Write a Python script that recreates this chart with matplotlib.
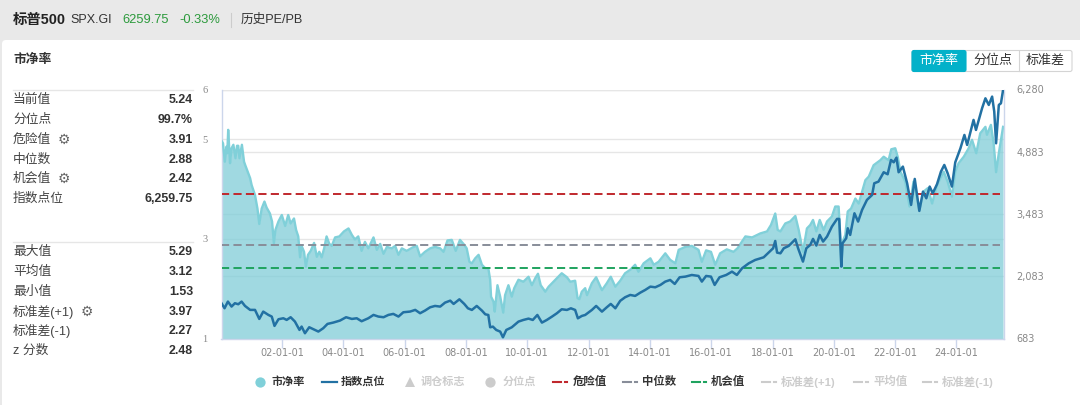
import matplotlib
matplotlib.use("Agg")
import matplotlib.pyplot as plt
from matplotlib.patches import FancyBboxPatch

plt.rcParams['font.family'] = ['Liberation Sans', 'Noto Sans CJK SC', 'DejaVu Sans']

# 市净率
pb_x = [2000.31,2000.36,2000.42,2000.47,2000.50,2000.53,2000.59,2000.64,2000.70,2000.77,2000.82,2000.86,2000.90,2000.98,
	2001.05,2001.09,2001.19,2001.25,2001.30,2001.41,2001.49,2001.55,2001.63,2001.72,2001.79,2001.90,2001.97,
	2002.03,2002.08,2002.18,2002.29,2002.40,2002.50,2002.58,2002.69,2002.76,2002.83,2002.89,2002.94,
	2003.02,2003.08,2003.15,2003.24,2003.35,2003.44,2003.52,2003.60,2003.68,2003.76,2003.85,2003.93,
	2004.04,2004.18,2004.33,2004.48,2004.59,2004.69,2004.80,2004.91,2005.02,2005.13,2005.30,2005.41,2005.52,2005.63,2005.74,2005.90,
	2006.01,2006.12,2006.23,2006.39,2006.59,2006.72,2006.83,2006.99,2007.16,2007.32,2007.49,2007.60,2007.73,2007.87,
	2008.00,2008.14,2008.28,2008.36,2008.45,2008.53,2008.64,2008.75,2008.86,2008.97,2009.07,2009.13,2009.16,2009.24,2009.28,2009.37,2009.46,2009.56,2009.62,2009.73,2009.84,2009.92,
	2010.06,2010.22,2010.39,2010.50,2010.61,2010.70,2010.79,2010.94,2011.05,2011.16,2011.32,2011.48,2011.65,2011.76,2011.92,
	2012.00,2012.06,2012.14,2012.25,2012.31,2012.47,2012.61,2012.80,2012.96,2013.09,2013.24,2013.40,2013.56,2013.73,2013.89,
	2014.00,2014.17,2014.39,2014.50,2014.66,2014.88,2015.04,2015.21,2015.32,2015.54,2015.75,2015.97,2016.08,2016.22,2016.38,2016.52,2016.68,2016.90,
	2017.12,2017.25,2017.51,2017.73,2018.00,2018.22,2018.35,2018.49,2018.57,2018.66,2018.82,2018.98,2019.15,2019.26,2019.40,2019.53,
	2019.64,2019.73,2019.84,2019.95,2020.08,2020.19,2020.35,2020.46,2020.57,2020.63,2020.66,2020.70,2020.79,2020.87,2020.98,
	2021.12,2021.23,2021.45,2021.56,2021.72,2021.94,2022.05,2022.21,2022.30,2022.43,2022.51,2022.60,2022.76,2022.90,
	2023.03,2023.22,2023.36,2023.50,2023.64,2023.80,2024.02,2024.15,2024.29,2024.40,2024.51,2024.68,2024.84,2024.95,
	2025.09,2025.22,2025.39,2025.44,2025.57,2025.66,2025.74,2025.83,2025.97]
pb_y = [4.97,4.92,4.55,4.85,4.72,5.19,4.52,4.82,4.89,4.62,4.87,4.87,4.62,4.89,
	4.55,4.48,4.32,4.22,4.08,3.88,3.61,3.30,3.61,3.75,3.63,3.51,3.35,
	2.91,3.18,3.35,3.48,3.26,3.48,3.31,3.41,3.18,3.05,2.63,2.86,
	2.74,2.44,2.68,2.76,2.92,2.64,2.74,2.63,2.81,3.05,2.90,2.86,
	3.03,3.05,3.15,3.21,3.08,2.99,3.05,2.76,2.94,2.81,3.03,2.78,2.90,2.70,2.84,2.81,
	2.86,2.68,2.81,2.76,2.83,2.86,2.65,2.74,2.81,2.84,2.81,2.74,2.97,2.98,
	2.76,2.98,2.88,2.81,2.54,2.51,2.61,2.68,2.48,2.41,2.41,2.18,1.84,1.74,1.54,2.07,1.84,1.52,1.87,2.07,1.84,2.01,
	2.18,2.14,2.24,2.07,2.21,2.30,2.07,1.94,2.04,2.11,2.21,2.31,2.23,2.14,2.16,
	1.81,1.79,1.94,2.01,1.87,2.11,2.23,1.97,2.11,2.24,2.04,2.16,2.31,2.38,2.48,
	2.34,2.51,2.61,2.48,2.54,2.71,2.58,2.51,2.78,2.84,2.86,2.78,2.54,2.77,2.74,2.48,2.71,2.79,
	2.74,2.81,3.05,3.03,3.11,3.15,3.28,3.51,3.18,3.15,3.31,3.35,3.46,3.18,2.74,3.21,
	3.28,3.38,3.15,3.38,3.18,3.35,3.45,3.65,3.65,3.01,2.44,2.94,3.08,3.55,3.61,
	3.81,3.71,4.18,4.25,4.48,4.58,4.65,4.58,4.80,4.82,4.65,4.35,4.15,3.65,
	4.15,3.58,3.95,4.02,3.71,4.08,4.35,4.15,3.85,4.35,4.52,4.65,4.82,4.99,
	4.72,5.12,5.25,5.09,5.29,4.92,4.34,4.72,5.25]

# 指数点位
idx_x = [2000.31,2000.41,2000.52,2000.64,2000.75,2000.86,2000.97,2001.08,2001.25,2001.41,2001.55,2001.68,2001.85,2001.96,
	2002.05,2002.18,2002.34,2002.45,2002.58,2002.72,2002.87,2002.94,2003.05,2003.19,2003.33,2003.49,2003.65,2003.79,2003.98,
	2004.20,2004.40,2004.59,2004.75,2004.91,2005.13,2005.30,2005.46,2005.63,2005.79,2005.95,2006.12,2006.28,2006.50,2006.67,2006.83,
	2006.99,2007.16,2007.32,2007.49,2007.65,2007.82,2007.93,2008.12,2008.28,2008.40,2008.53,2008.69,2008.86,2008.97,
	2009.07,2009.13,2009.22,2009.33,2009.46,2009.55,2009.66,2009.84,2010.06,2010.22,2010.39,2010.53,2010.68,2010.83,2010.99,
	2011.16,2011.32,2011.48,2011.65,2011.78,2011.92,2012.01,2012.14,2012.25,2012.47,2012.61,2012.80,2012.96,2013.09,2013.24,2013.40,
	2013.56,2013.73,2013.89,2014.06,2014.22,2014.39,2014.55,2014.72,2014.88,2015.04,2015.19,2015.35,2015.54,2015.75,2015.97,
	2016.08,2016.22,2016.38,2016.50,2016.66,2016.88,2017.07,2017.23,2017.40,2017.62,2017.83,2018.11,2018.27,2018.42,2018.49,2018.55,2018.66,2018.77,2018.93,
	2019.15,2019.24,2019.40,2019.51,2019.64,2019.73,2019.84,2019.95,2020.06,2020.19,2020.35,2020.52,2020.59,2020.66,2020.70,2020.82,2020.87,2020.95,
	2021.09,2021.21,2021.34,2021.50,2021.67,2021.74,2021.88,2022.05,2022.18,2022.29,2022.38,2022.47,2022.54,2022.68,2022.82,2022.95,
	2023.07,2023.22,2023.34,2023.45,2023.56,2023.66,2023.80,2023.93,2024.04,2024.15,2024.29,2024.40,2024.57,2024.70,2024.79,
	2025.00,2025.08,2025.28,2025.39,2025.50,2025.61,2025.68,2025.74,2025.83,2025.90,2025.97]
idx_y = [1476,1363,1513,1401,1476,1453,1513,1416,1326,1326,1123,1288,1213,1176,
	966,1116,1138,1101,1161,1064,876,951,801,936,891,839,914,1011,1041,
	1086,1161,1123,1138,1071,1138,1213,1176,1161,1213,1236,1176,1273,1288,1326,1251,
	1310,1385,1415,1400,1490,1534,1460,1564,1460,1362,1325,1415,1310,1227,
	1212,935,950,875,838,710,875,935,1063,1100,1130,1100,1212,1040,1100,
	1175,1250,1340,1325,1362,1325,1137,1190,1212,1325,1415,1287,1385,1460,1362,1530,
	1610,1662,1640,1714,1774,1849,1834,1887,1962,1999,1909,2059,2074,2111,2089,
	1962,2089,2074,1887,2059,2111,2186,2111,2261,2373,2448,2508,2613,2711,2875,2613,2598,2711,2763,
	2913,2711,2411,2711,2787,2922,2772,3011,2862,2974,3199,3371,3371,2300,2824,2937,3161,3011,
	3498,3311,3573,3798,3910,4172,4210,4420,4375,4697,4644,4749,4420,4547,4172,3686,
	4270,3551,3985,3835,4098,3948,4150,4435,4584,4397,4098,4644,4959,5258,5034,
	5596,5371,5858,6082,5933,6120,5783,5071,5933,5970,6270]

# 危险值 / 中位数 / 机会值
danger = 3.91
median = 2.88
chance = 2.42

tick_pos = [2002.30,2004.31,2006.32,2008.34,2010.35,2012.36,2014.38,2016.39,2018.40,2020.41,2022.43,2024.44]
tick_labels = ['02-01-01','04-01-01','06-01-01','08-01-01','10-01-01','12-01-01','14-01-01','16-01-01','18-01-01','20-01-01','22-01-01','24-01-01']
left_ticks = [1,3,5,6]
right_ticks = [683,2083,3483,4883,6280]

top_rows = [('当前值','5.24',0),('分位点','99.7%',0),('危险值','3.91',1),('中位数','2.88',0),('机会值','2.42',1),('指数点位','6,259.75',0)]
bottom_rows = [('最大值','5.29',0),('平均值','3.12',0),('最小值','1.53',0),('标准差(+1)','3.97',1),('标准差(-1)','2.27',0),('z 分数','2.48',0)]
top_row_y = [100,120,140,160,179,199]
bottom_row_y = [252,272,292,312,331,351]

W, H = 1080, 405
fig = plt.figure(figsize=(W/100, H/100), dpi=100, facecolor='#e9e9e9')

# page, in pixels
bg = fig.add_axes([0, 0, 1, 1])
bg.set_xlim(0, W)
bg.set_ylim(H, 0)
bg.axis('off')
bg.add_patch(FancyBboxPatch((2, 40), 1100, 400, boxstyle='round,pad=0,rounding_size=4', fc='white', ec='none'))

dark = '#333333'
bg.text(13, 20, '标普500', fontsize=10.4, fontweight='bold', color='#222222', va='center')
bg.text(70, 20, 'SPX.GI', fontsize=9, color=dark, va='center')
bg.text(122, 20, '6259.75', fontsize=9.3, color='#2c9a3c', va='center')
bg.text(179, 20, '-0.33%', fontsize=9.3, color='#2c9a3c', va='center')
bg.plot([231, 231], [13, 27], color='#cccccc', lw=0.8)
bg.text(241, 20, '历史PE/PB', fontsize=9.1, color=dark, va='center')
bg.text(13, 60, '市净率', fontsize=9.2, fontweight='bold', color=dark, va='center')

# tabs
bg.add_patch(FancyBboxPatch((912, 50.5), 160, 21, boxstyle='round,pad=0,rounding_size=2', fc='white', ec='#d4d4d4', lw=0.8))
bg.add_patch(FancyBboxPatch((912, 50.5), 54, 21, boxstyle='round,pad=0,rounding_size=2', fc='#03b1c9', ec='#03b1c9', lw=0.8))
bg.plot([1019, 1019], [51, 71], color='#d4d4d4', lw=0.8)
bg.text(939, 61, '市净率', fontsize=9.4, color='white', ha='center', va='center')
bg.text(992.5, 61, '分位点', fontsize=9.4, color=dark, ha='center', va='center')
bg.text(1045.5, 61, '标准差', fontsize=9.4, color=dark, ha='center', va='center')

# left panel
bg.plot([13, 193], [90, 90], color='#e6e6e6', lw=1)
bg.plot([13, 193], [242, 242], color='#e6e6e6', lw=1)
for rows, ys in ((top_rows, top_row_y), (bottom_rows, bottom_row_y)):
	for (name, val, gear), y in zip(rows, ys):
		bg.text(13, y, name, fontsize=9.2, color='#444444', va='center')
		bg.text(193, y, val, fontsize=8.9, fontweight='bold', color=dark, ha='right', va='center')
		if gear:
			gx = 64 if len(name) == 3 else 87
			bg.text(gx, y, '⚙', fontsize=10, color='#666666', ha='center', va='center', family='DejaVu Sans')

# chart
left, right, top, bottom = 221.5, 1004, 89.5, 338.5
ax = fig.add_axes([left/W, 1-bottom/H, (right-left)/W, (bottom-top)/H])
ax.set_xlim(2000.31, 2026.0)
ax.set_ylim(1, 6)
ax.set_facecolor('white')
ax.set_axisbelow(True)
ax.grid(axis='y', color='#e6e6e6', lw=1)
# gridlines of the right scale, behind the fill
for v in right_ticks:
	ax.axhline(1 + (v-683)/(6280-683)*5, color='#e6e6e6', lw=1, zorder=1)
ax.fill_between(pb_x, pb_y, 1, color='#80cdd8', alpha=0.75, lw=0, zorder=2)
ax.plot(pb_x, pb_y, color='#80d0d9', lw=1.7, zorder=3)
for val, col in ((danger, '#c0282d'), (median, '#888d99'), (chance, '#1fa35f')):
	ax.plot([2000.31, 2025.88], [val, val], color=col, lw=1.4, dashes=(4.2, 2.2), zorder=4)
ax.set_xticks(tick_pos)
ax.set_xticklabels(tick_labels, family='DejaVu Sans', fontsize=7, color='#888888')
ax.tick_params(axis='x', length=6.5, width=1, color='#ccd6eb', pad=0.5)
ax.set_yticks(left_ticks)
ax.set_yticklabels([str(v) for v in left_ticks], family='Liberation Serif', fontsize=7.5, color='#888888')
ax.tick_params(axis='y', length=0, pad=10)
for s in ('top', 'right'):
	ax.spines[s].set_visible(False)
for s in ('left', 'bottom'):
	ax.spines[s].set_color('#ccd6eb')
	ax.spines[s].set_linewidth(1)

ax2 = ax.twinx()
ax2.set_ylim(683, 6280)
ax2.plot(idx_x, idx_y, color='#2271a3', lw=1.8, zorder=5, solid_joinstyle='round')
ax2.set_yticks(right_ticks)
ax2.set_yticklabels([f'{v:,}' for v in right_ticks], family='DejaVu Sans', fontsize=7, color='#888888')
ax2.tick_params(axis='y', length=0, pad=9)
for s in ('top', 'left', 'bottom'):
	ax2.spines[s].set_visible(False)
ax2.spines['right'].set_color('#ccd6eb')
ax2.spines['right'].set_linewidth(1)

# legend, in pixels
ly = 381.5
on = '#333333'
off = '#cccccc'
leg = fig.add_axes([0, 0, 1, 1], facecolor='none')
leg.set_xlim(0, W)
leg.set_ylim(H, 0)
leg.axis('off')
leg.plot([260], [ly], 'o', ms=7.4, color='#80d0d9', mew=0)
leg.text(272, ly, '市净率', fontsize=8, fontweight='bold', color=on, va='center')
leg.plot([322, 337], [ly, ly], color='#2271a3', lw=1.6)
leg.text(341, ly, '指数点位', fontsize=8, fontweight='bold', color=on, va='center')
leg.plot([410], [ly], '^', ms=6.5, color=off, mew=0)
leg.text(421, ly, '调仓标志', fontsize=8, fontweight='bold', color=off, va='center')
leg.plot([490], [ly], 'o', ms=7.4, color=off, mew=0)
leg.text(503, ly, '分位点', fontsize=8, fontweight='bold', color=off, va='center')
items = [(553, 573, '危险值', '#c0282d', on), (623, 642, '中位数', '#888d99', on), (692, 711, '机会值', '#1fa35f', on),
	(762, 781, '标准差(+1)', off, off), (854, 873, '平均值', off, off), (923, 942, '标准差(-1)', off, off)]
for x0, xt, name, col, tcol in items:
	leg.plot([x0, x0+8], [ly, ly], color=col, lw=1.5)
	leg.plot([x0+12, x0+14], [ly, ly], color=col, lw=1.5)
	leg.text(xt, ly, name, fontsize=8.2, fontweight='bold', color=tcol, va='center')

fig.savefig('out.png', dpi=100, facecolor=fig.get_facecolor())
